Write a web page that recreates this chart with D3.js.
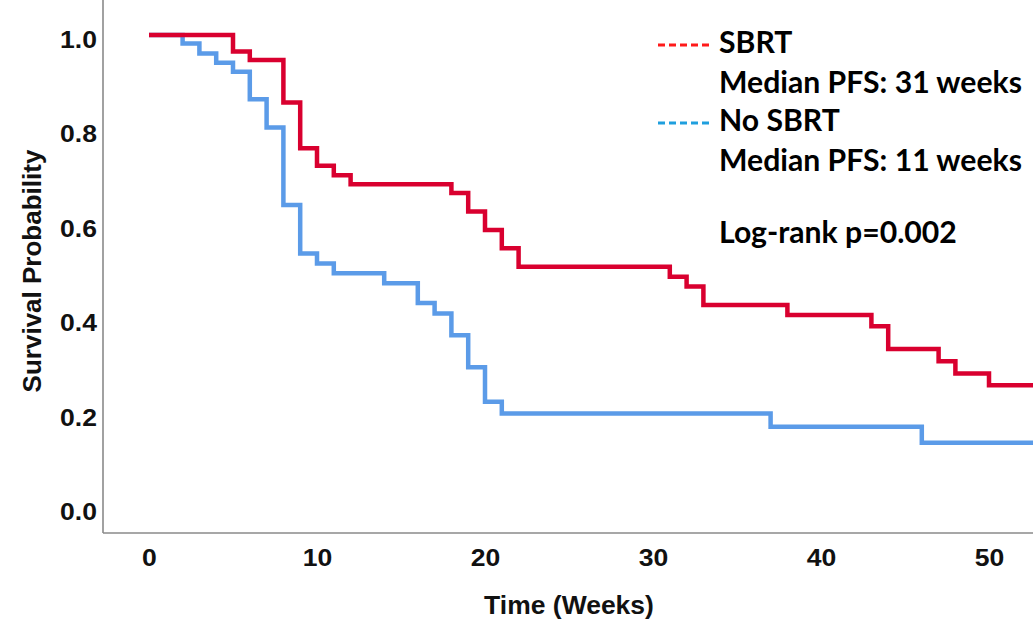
<!DOCTYPE html>
<html>
<head>
<meta charset="utf-8">
<script src="https://cdn.jsdelivr.net/npm/d3@7"></script>
<style>
  html, body { margin: 0; padding: 0; background: #fff; overflow: hidden; }
  svg { display: block; }
  .tick text { font-family: "Liberation Sans", Arial, sans-serif; font-weight: bold; fill: #111; }
  .title { font-family: "Liberation Sans", Arial, sans-serif; font-weight: bold; fill: #111; }
  .legend text { font-family: Lato, "Open Sans", sans-serif; font-weight: bold; fill: #000; }
</style>
</head>
<body>
<script>
'use strict';

// Kaplan-Meier steps (week of event, survival after it)
var sbrtWeeks = [0, 5, 6, 8, 9, 10, 11, 12, 18, 19, 20, 21, 22, 31, 32, 33, 38, 43, 44, 47, 48, 50];
var sbrtSurvival = [1.0, 0.965, 0.947, 0.857, 0.760, 0.723, 0.703, 0.684, 0.665, 0.626, 0.587,
  0.548, 0.509, 0.488, 0.467, 0.428, 0.407, 0.383, 0.335, 0.309, 0.283, 0.258];
var noSbrtWeeks = [0, 2, 3, 4, 5, 6, 7, 8, 9, 10, 11, 14, 16, 17, 18, 19, 20, 21, 37, 46];
var noSbrtSurvival = [1.0, 0.982, 0.961, 0.941, 0.922, 0.864, 0.804, 0.640, 0.537, 0.516, 0.495,
  0.474, 0.432, 0.410, 0.364, 0.296, 0.223, 0.198, 0.170, 0.136];
var followUpEnd = 53;

var xTicks = [0, 10, 20, 30, 40, 50];
var yTicks = [0.0, 0.2, 0.4, 0.6, 0.8, 1.0];

var legendLines = [
  { text: 'SBRT', swatch: '#ff1a1a' },
  { text: 'Median PFS: 31 weeks', swatch: null },
  { text: 'No SBRT', swatch: '#1f9fde' },
  { text: 'Median PFS: 11 weeks', swatch: null },
  { text: '', swatch: null },
  { text: 'Log-rank p=0.002', swatch: null }
];

var width = 1033,
    height = 620,
    axisLeft = 103,
    axisBottom = 533;

var x = d3.scaleLinear().domain([0, 50]).range([149, 989]);
var y = d3.scaleLinear().domain([0, 1]).range([507, 35]);

var svg = d3.select('body').append('svg')
  .attr('width', width)
  .attr('height', height);

/**
 * Pair up weeks and survival, and carry the last level to the end of follow-up.
 */
function steps(weeks, surv) {
  var pts = weeks.map(function(w, i) { return [w, surv[i]]; });
  pts.push([followUpEnd, surv[surv.length - 1]]);
  return pts;
}

var line = d3.line()
  .x(function(d) { return x(d[0]); })
  .y(function(d) { return y(d[1]); })
  .curve(d3.curveStepAfter);

// axis lines
svg.append('line')
  .attr('x1', axisLeft).attr('x2', axisLeft)
  .attr('y1', 0).attr('y2', axisBottom)
  .attr('stroke', '#8a8a8a').attr('stroke-width', 1.6);
svg.append('line')
  .attr('x1', axisLeft).attr('x2', width)
  .attr('y1', axisBottom).attr('y2', axisBottom)
  .attr('stroke', '#8a8a8a').attr('stroke-width', 1.6);

// tick labels (the original glyphs are a little wider than plain Arial)
var xAxis = svg.append('g')
  .attr('transform', 'translate(0,' + 549 + ')')
  .call(d3.axisBottom(x).tickValues(xTicks).tickSize(0).tickPadding(0)
    .tickFormat(d3.format('d')));
xAxis.select('.domain').remove();
xAxis.selectAll('text')
  .attr('font-size', 23.5)
  .attr('dy', '0.71em')
  .attr('transform', 'scale(1.13,1)');

var yAxis = svg.append('g')
  .attr('transform', 'translate(97,5)')
  .call(d3.axisLeft(y).tickValues(yTicks).tickSize(0).tickPadding(0)
    .tickFormat(d3.format('.1f')));
yAxis.select('.domain').remove();
yAxis.selectAll('text')
  .attr('font-size', 23.5)
  .attr('transform', 'scale(1.13,1)');

// axis titles
svg.append('text')
  .attr('class', 'title')
  .attr('transform', 'translate(569,614) scale(1.06,1)')
  .attr('text-anchor', 'middle')
  .attr('font-size', 25)
  .text('Time (Weeks)');
svg.append('text')
  .attr('class', 'title')
  .attr('transform', 'translate(41,271) rotate(-90)')
  .attr('text-anchor', 'middle')
  .attr('font-size', 26)
  .text('Survival Probability');

// survival curves
svg.append('path')
  .datum(steps(noSbrtWeeks, noSbrtSurvival))
  .attr('d', line)
  .attr('fill', 'none')
  .attr('stroke', '#5b9be8')
  .attr('stroke-width', 4.5);
svg.append('path')
  .datum(steps(sbrtWeeks, sbrtSurvival))
  .attr('d', line)
  .attr('fill', 'none')
  .attr('stroke', '#d9002f')
  .attr('stroke-width', 4.5);

// legend block, text sized to match the original width
var legend = svg.append('g').attr('class', 'legend');
var probe = legend.append('text').attr('font-size', 28).text(legendLines[1].text);
var fontSize = 28 * 303 / probe.node().getComputedTextLength();
probe.remove();

legendLines.forEach(function(d, i) {
  var baseline = [53, 93, 131, 171, 0, 243][i];
  if (!d.text) {
    return;
  }
  legend.append('text')
    .attr('x', 719).attr('y', baseline)
    .attr('font-size', fontSize)
    .text(d.text);
  if (d.swatch) {
    legend.append('line')
      .attr('x1', 658).attr('x2', 712)
      .attr('y1', baseline - 8).attr('y2', baseline - 8)
      .attr('stroke', d.swatch)
      .attr('stroke-width', 3)
      .attr('stroke-dasharray', '7,4');
  }
});
</script>
</body>
</html>
